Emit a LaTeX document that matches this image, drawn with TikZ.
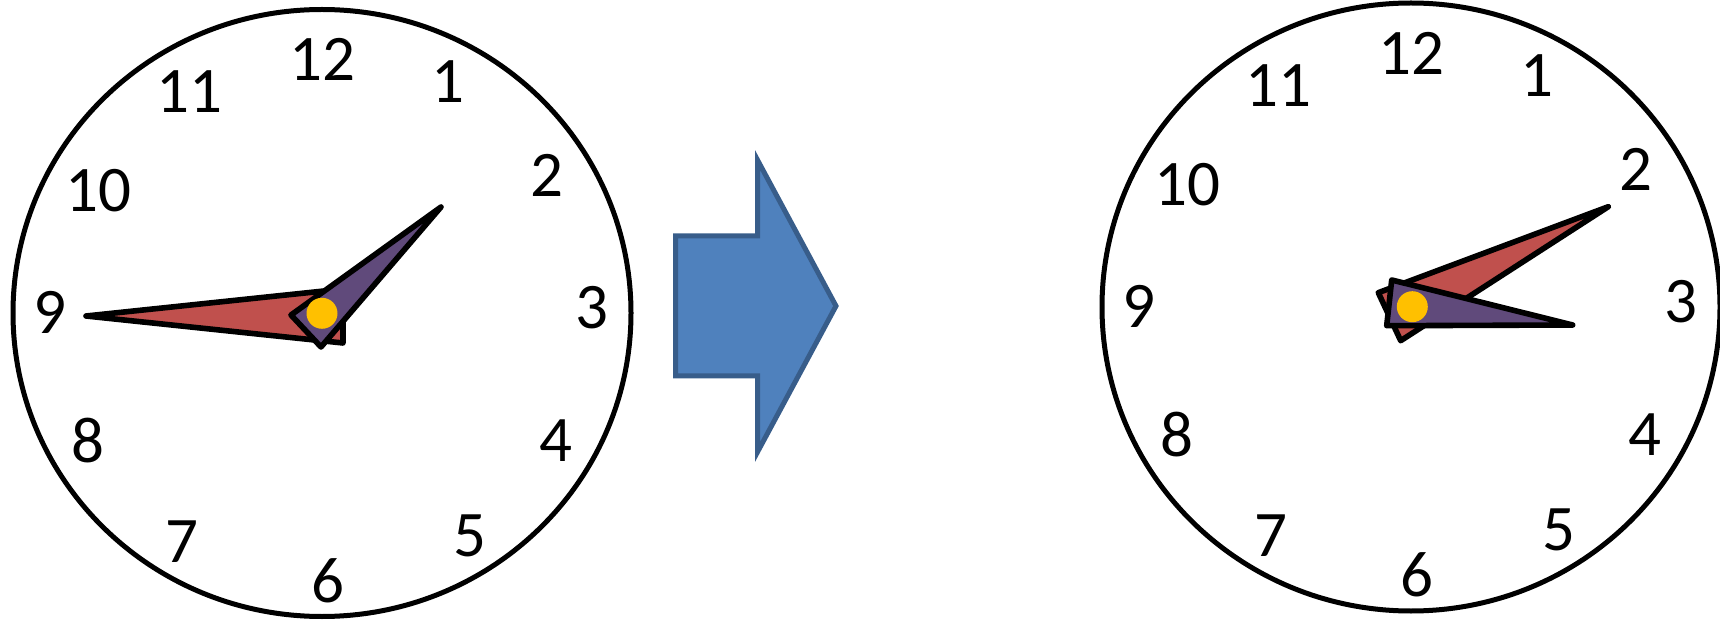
\documentclass[tikz,border=0pt]{standalone}
\usepackage{fontspec}
\setmainfont{Carlito}
\definecolor{handred}{HTML}{C0504D}
\definecolor{handpurple}{HTML}{604A7B}
\definecolor{pincolor}{HTML}{FFC000}
\definecolor{arrowfill}{HTML}{4F81BD}
\definecolor{arrowline}{HTML}{385D8A}
\begin{document}
\begin{tikzpicture}[x=0.5pt,y=-0.5pt,
  face/.style={line width=2.5pt},
  hand/.style={draw=black,line width=2.8pt,line join=round},
  redhand/.style={hand,fill=handred},
  purplehand/.style={hand,fill=handpurple},
  pin/.style={fill=pincolor},
  num/.style={font=\fontsize{32.5}{36}\selectfont,inner sep=0pt},
  bigarrow/.style={fill=arrowfill,draw=arrowline,line width=2.5pt,line join=miter}]
\useasboundingbox (0,0) rectangle (1720,620);
% left clock
\begin{scope}[shift={(322,313)}]
  \draw[face] (0,0) ellipse [x radius=309, y radius=303.5];
  \foreach \n/\px/\py in {12/0/-253.5,1/125.5/-231.5,2/224.5/-138,3/270/-5.5,4/234/127.5,5/148/223,6/6/268,7/-140.5/228.5,8/-234/127.5,9/-272.5/-1,10/-224/-122,11/-133/-221}
    \node[num] (L\n) at (\px,\py) {\n};
  \draw[redhand] (-236,3) -- (21,-24) -- (21,30) -- cycle;
  \draw[purplehand] (119,-106) -- (-31,2) -- (-1,34) -- cycle;
  \fill[pin] (0,0.3) circle [radius=15.5];
\end{scope}
% arrow
\draw[bigarrow] (675.5,236) -- (757.5,236) -- (757.5,160) -- (836,306) -- (757.5,452) -- (757.5,376) -- (675.5,376) -- cycle;
% right clock
\begin{scope}[shift={(1411,307)}]
  \draw[face] (0,0) ellipse [x radius=309, y radius=304];
  \foreach \n/\px/\py in {12/0/-253.5,1/125.5/-231.5,2/224.5/-138,3/270/-5.5,4/234/127.5,5/148/223,6/6/268,7/-140.5/228.5,8/-234/127.5,9/-272.5/-1,10/-224/-122,11/-133/-221}
    \node[num] (R\n) at (\px,\py) {\n};
  \draw[redhand] (197.3,-100.3) -- (-32.7,-14.3) -- (-10.3,33.7) -- cycle;
  \draw[purplehand] (161.7,18) -- (-19.3,-27) -- (-24.3,18.7) -- cycle;
  \fill[pin] (1.3,-0.3) circle [radius=15.5];
\end{scope}
\end{tikzpicture}
\end{document}
